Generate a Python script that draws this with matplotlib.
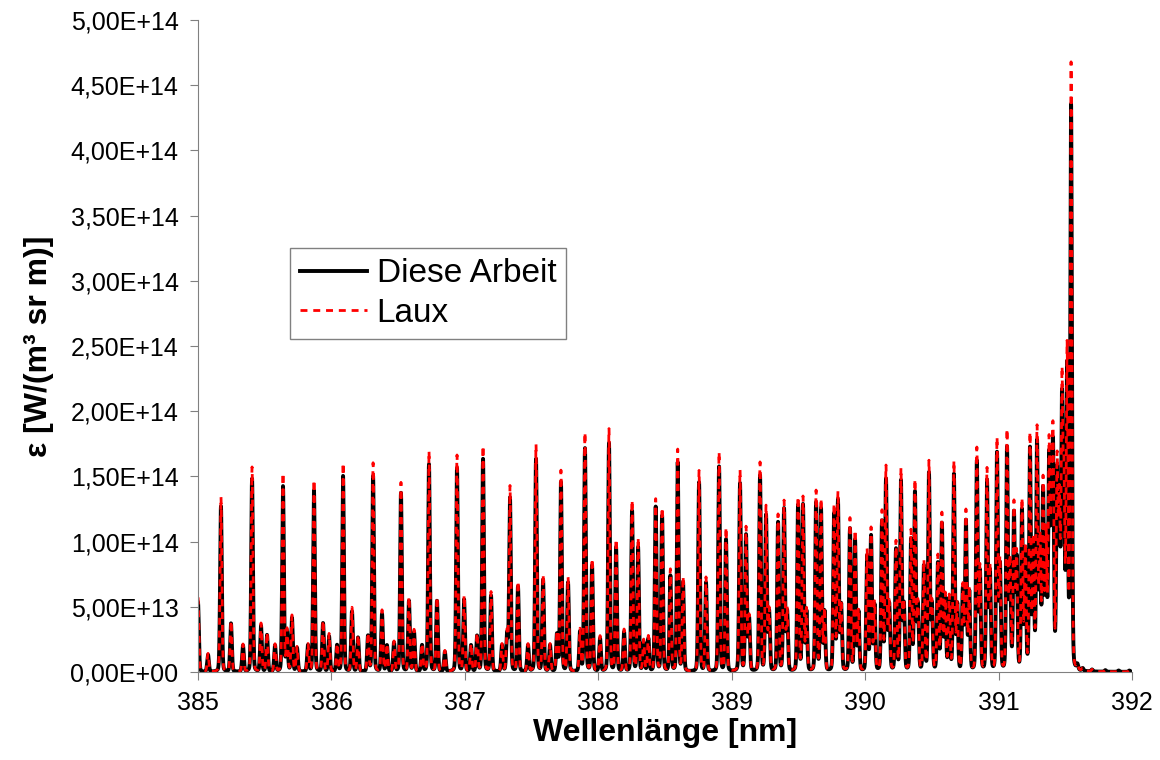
import numpy as np
import matplotlib.pyplot as plt
from matplotlib.ticker import FuncFormatter, MultipleLocator

plt.rcParams['font.family'] = ['Liberation Sans', 'DejaVu Sans']

# %% Line positions [nm] and peak heights [1e14 W/(m^3 sr m)]
pk_nm = [385.000, 385.075, 385.172, 385.247, 385.337, 385.405, 385.472, 385.517,
         385.577, 385.637, 385.667, 385.704, 385.742, 385.824, 385.869, 385.937,
         385.982, 386.042, 386.087, 386.154, 386.199, 386.274, 386.312, 386.379,
         386.416, 386.469, 386.521, 386.581, 386.619, 386.679, 386.731, 386.791,
         386.850, 386.941, 386.994, 387.046, 387.091, 387.136, 387.196, 387.278,
         387.316, 387.338, 387.398, 387.473, 387.533, 387.586, 387.638, 387.690,
         387.720, 387.773, 387.863, 387.900, 387.953, 388.013, 388.080, 388.133,
         388.193, 388.253, 388.298, 388.340, 388.375, 388.430, 388.478, 388.540,
         388.595, 388.635, 388.755, 388.807, 388.905, 388.957, 389.062, 389.107,
         389.130, 389.212, 389.257, 389.280, 389.347, 389.392, 389.415, 389.497,
         389.534, 389.560, 389.632, 389.669, 389.695, 389.767, 389.796, 389.820,
         389.886, 389.924, 389.950, 390.014, 390.044, 390.070, 390.126, 390.156,
         390.180, 390.231, 390.268, 390.290, 390.343, 390.373, 390.395, 390.440,
         390.478, 390.500, 390.545, 390.575, 390.600, 390.630, 390.665, 390.690,
         390.732, 390.755, 390.780, 390.837, 390.860, 390.913, 390.935, 390.988,
         391.010, 391.063, 391.085, 391.115, 391.135, 391.175, 391.200, 391.235,
         391.260, 391.288, 391.310, 391.333, 391.355, 391.378, 391.395, 391.408,
         391.438, 391.455, 391.475, 391.490, 391.513, 391.543, 391.590, 391.630,
         391.700, 391.800, 391.900, 391.980]

diese = [0.53, 0.13, 1.27, 0.37, 0.20, 1.48, 0.35, 0.28,
         0.20, 1.42, 0.30, 0.41, 0.18, 0.20, 1.39, 0.37,
         0.27, 0.20, 1.50, 0.46, 0.26, 0.27, 1.50, 0.44,
         0.20, 0.22, 1.37, 0.54, 0.30, 0.20, 1.59, 0.54,
         0.15, 1.56, 0.55, 0.20, 0.27, 1.63, 0.58, 0.20,
         0.28, 1.33, 0.65, 0.20, 1.63, 0.70, 0.20, 0.28,
         1.45, 0.68, 0.30, 1.71, 0.81, 0.25, 1.75, 0.95,
         0.30, 1.23, 0.95, 0.22, 0.25, 1.26, 1.19, 0.73,
         1.60, 0.68, 1.45, 0.68, 1.57, 1.01, 1.44, 1.04,
         0.40, 1.50, 1.19, 0.45, 1.14, 1.24, 0.45, 1.27,
         1.27, 0.45, 1.29, 1.24, 0.45, 1.20, 1.30, 0.50,
         1.09, 1.00, 0.45, 0.88, 1.03, 0.50, 1.14, 1.46,
         0.50, 0.93, 1.45, 0.50, 1.00, 1.36, 0.50, 0.80,
         1.51, 0.50, 0.82, 1.12, 0.55, 0.54, 1.50, 0.50,
         0.62, 1.14, 0.60, 1.60, 0.75, 1.45, 0.75, 1.66,
         0.80, 1.70, 0.80, 1.19, 0.85, 1.22, 0.90, 1.69,
         0.95, 1.73, 0.95, 1.36, 1.00, 1.59, 1.10, 1.57,
         1.47, 1.20, 1.98, 1.30, 2.30, 4.32, 0.04, 0.02,
         0.015, 0.012, 0.010, 0.010]

laux = [0.57, 0.14, 1.34, 0.39, 0.21, 1.57, 0.37, 0.30,
        0.21, 1.52, 0.32, 0.43, 0.19, 0.21, 1.47, 0.39,
        0.29, 0.21, 1.60, 0.49, 0.28, 0.29, 1.60, 0.47,
        0.21, 0.23, 1.45, 0.57, 0.32, 0.21, 1.69, 0.57,
        0.16, 1.66, 0.58, 0.21, 0.29, 1.73, 0.61, 0.21,
        0.30, 1.42, 0.69, 0.21, 1.74, 0.74, 0.21, 0.30,
        1.54, 0.72, 0.32, 1.83, 0.86, 0.27, 1.86, 1.01,
        0.32, 1.31, 1.02, 0.24, 0.27, 1.32, 1.25, 0.78,
        1.70, 0.72, 1.54, 0.72, 1.68, 1.10, 1.54, 1.10,
        0.42, 1.60, 1.26, 0.47, 1.20, 1.30, 0.47, 1.33,
        1.33, 0.47, 1.38, 1.31, 0.47, 1.27, 1.36, 0.52,
        1.17, 1.07, 0.47, 0.93, 1.09, 0.52, 1.22, 1.56,
        0.52, 0.99, 1.54, 0.52, 1.07, 1.45, 0.52, 0.84,
        1.60, 0.52, 0.88, 1.20, 0.58, 0.57, 1.60, 0.52,
        0.65, 1.22, 0.63, 1.70, 0.79, 1.54, 0.79, 1.77,
        0.84, 1.83, 0.84, 1.27, 0.89, 1.30, 0.95, 1.80,
        1.00, 1.84, 1.00, 1.44, 1.05, 1.70, 1.16, 1.68,
        1.57, 1.26, 2.14, 1.37, 2.45, 4.64, 0.04, 0.02,
        0.015, 0.012, 0.010, 0.010]

# %% Build the spectra from the line list (pseudo-Voigt line shape)
sig = 0.0065
gam = 0.006
frac_l = 0.25
wl = np.arange(385.0, 392.0001, 0.0005)

def spectrum(pos, amp):
    s = np.zeros_like(wl)
    for p, a in zip(pos, amp):
        d = wl - p
        g = np.exp(-0.5 * (d / sig)**2)
        lz = gam**2 / (d**2 + gam**2)
        s += a * 1e14 * ((1 - frac_l) * g + frac_l * lz)
    return s

eps_diese = spectrum(pk_nm, diese)
eps_laux = spectrum(pk_nm, laux)

# %% Plot
fig = plt.figure(figsize=(11.6, 7.6), dpi=100)
ax = fig.add_axes([0.1707, 0.1158, 0.8052, 0.8579])
ax.plot(wl, eps_diese, color='black', lw=2.8, label='Diese Arbeit')
ax.plot(wl, eps_laux, color='red', lw=2.0, dashes=(2.5, 2.1), label='Laux')

ax.set_xlim(385, 392)
ax.set_ylim(0, 5e14)
ax.yaxis.set_major_locator(MultipleLocator(0.5e14))
ax.xaxis.set_major_locator(MultipleLocator(1))
ax.yaxis.set_major_formatter(FuncFormatter(lambda v, p: format(v, '.2E').replace('.', ',')))
ax.tick_params(labelsize=18, direction='out', length=6, color='#808080', pad=8)

for s in ['top', 'right']:
    ax.spines[s].set_visible(False)
for s in ['left', 'bottom']:
    ax.spines[s].set_color('#808080')

ax.set_xlabel('Wellenlänge [nm]', fontsize=23, fontweight='bold', labelpad=2)
ax.set_ylabel('ε [W/(m³ sr m)]', fontsize=23, fontweight='bold', labelpad=12)

leg = ax.legend(loc='upper left', bbox_to_anchor=(0.0985, 0.65), fontsize=24,
                fancybox=False, framealpha=1, edgecolor='#808080',
                handlelength=2.0, handletextpad=0.3, borderpad=0.3,
                labelspacing=0.25, borderaxespad=0)
leg.get_frame().set_linewidth(1.0)

fig.savefig('out.png', dpi=100)
